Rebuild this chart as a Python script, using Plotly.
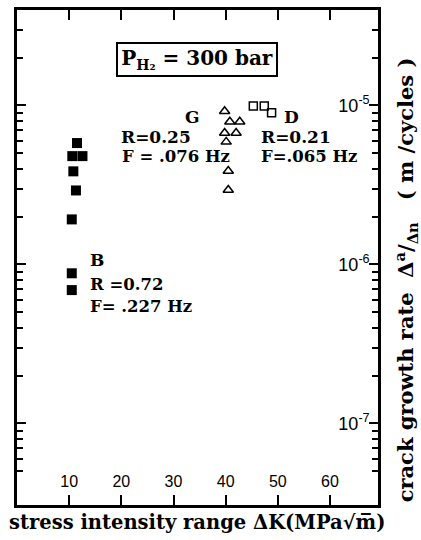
import plotly.graph_objects as go

# ---------------- data ----------------
b_dk = [11.5, 10.6, 12.55, 10.8, 11.3, 10.5, 10.5, 10.5]
b_rate = [5.8e-6, 4.8e-6, 4.8e-6, 3.85e-6, 2.92e-6, 1.92e-6, 8.8e-7, 6.9e-7]

g_dk = [39.8, 40.8, 42.7, 39.8, 42.0, 40.1, 40.5, 40.5]
g_rate = [9.2e-6, 7.9e-6, 7.9e-6, 6.7e-6, 6.7e-6, 5.9e-6, 3.87e-6, 2.94e-6]

d_dk = [45.3, 47.4, 48.8]
d_rate = [9.9e-6, 9.9e-6, 9.0e-6]

x_ticks = [10, 20, 30, 40, 50, 60]
y_ticks = [1e-7, 1e-6, 1e-5]
y_ticklabels = ["10<sup>-7</sup>", "10<sup>-6</sup>", "10<sup>-5</sup>"]
y_minor = [k * 10.0 ** d for d in (-8, -7, -6, -5) for k in range(2, 10)
           if 3e-8 <= k * 10.0 ** d <= 3.9e-5]

# ---------------- layout helpers ----------------
W, H = 421, 540
L, R, T, B = 17, 43, 7, 35
PW, PH = W - L - R, H - T - B


def px(x, y):
    return (x - L) / PW, (H - B - y) / PH


SERIF = "DejaVu Serif"
SANS = "Liberation Sans"

fig = go.Figure()
fig.add_trace(go.Scatter(x=b_dk, y=b_rate, mode="markers",
                         marker=dict(symbol="square", size=10, color="black"),
                         showlegend=False))
fig.add_trace(go.Scatter(x=g_dk, y=g_rate, mode="markers",
                         marker=dict(symbol="triangle-up-open", size=9, color="black",
                                     line=dict(width=1.5, color="black")),
                         showlegend=False))
fig.add_trace(go.Scatter(x=d_dk, y=d_rate, mode="markers",
                         marker=dict(symbol="square-open", size=8, color="black",
                                     line=dict(width=1.5, color="black")),
                         showlegend=False))

annos = []


def add_text(text, x, y, size=16.5, xanchor="left", **kw):
    ax, ay = px(x, y)
    d = dict(text=text, x=ax, y=ay, xref="paper", yref="paper", showarrow=False,
             xanchor=xanchor, yanchor="middle",
             font=dict(family=SERIF, size=size, color="black", weight="bold"))
    d.update(kw)
    annos.append(d)


add_text("P<sub>H₂</sub> = 300 bar", 196.5, 56.5, size=20, xanchor="center",
         bordercolor="black", borderwidth=2, borderpad=1, width=156, height=29)
add_text("G", 192, 115, size=17, xanchor="center")
add_text("D", 291, 115, size=17, xanchor="center")
add_text("R=0.25", 119, 135, size=17)
add_text("F = .076 Hz", 120, 154)
add_text("R=0.21", 259, 135, size=17)
add_text("F=.065 Hz", 259, 154)
add_text("B", 97, 259, size=17, xanchor="center")
add_text("R =0.72", 88, 283)
add_text("F= .227 Hz", 88, 305)
add_text("stress intensity range ΔK(MPa√m̅)", 197, 523, size=19.5, xanchor="center")
add_text("crack growth rate  Δ<sup>a</sup>/<sub>Δn</sub>   ( m /cycles )", 406, 279,
         size=21, xanchor="center", textangle=-90)

fig.update_layout(
    width=W, height=H,
    margin=dict(l=L, r=R, t=T, b=B, pad=0),
    plot_bgcolor="white", paper_bgcolor="white",
    annotations=annos,
    xaxis=dict(range=[0, 69.2], tickvals=x_ticks, ticks="inside", ticklen=10, tickwidth=2,
               tickcolor="black", showline=True, linewidth=3, linecolor="black",
               mirror="ticks", showgrid=False, zeroline=False,
               ticklabelposition="inside", ticklabelstandoff=5,
               tickfont=dict(family=SANS, size=16, color="black")),
    yaxis=dict(type="log", range=[-7.5125, -4.4], side="right",
               tickvals=y_ticks, ticktext=y_ticklabels,
               ticks="inside", ticklen=9, tickwidth=2, tickcolor="black",
               showline=True, linewidth=3, linecolor="black", mirror="ticks",
               showgrid=False, zeroline=False, ticklabelposition="inside",
               tickfont=dict(family=SANS, size=18, color="black"),
               minor=dict(tickvals=y_minor, ticks="inside", ticklen=6, tickwidth=2,
                          tickcolor="black", showgrid=False)),
)

fig.write_html("out.html", config={"displayModeBar": False},
               post_script="document.body.style.margin='0';")
